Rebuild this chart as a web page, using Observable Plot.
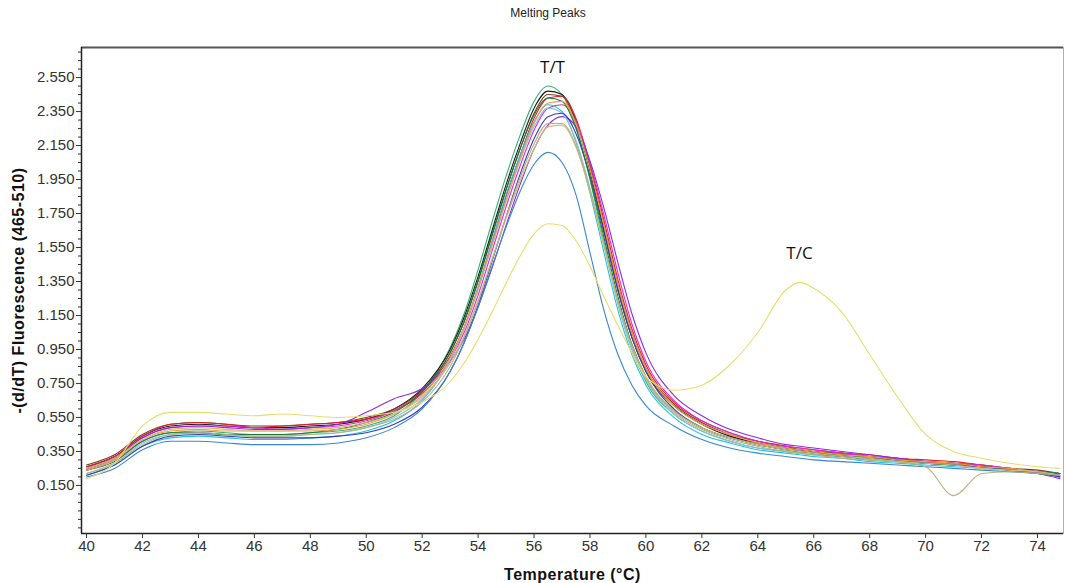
<!DOCTYPE html>
<html><head><meta charset="utf-8">
<script src="https://cdn.jsdelivr.net/npm/d3@7"></script>
<script src="https://cdn.jsdelivr.net/npm/@observablehq/plot@0.6"></script>
<style>
body{margin:0;background:#fff;}
#wrap{position:relative;width:1068px;height:583px;background:#fff;}
#wrap svg{display:block;}
#title{position:absolute;top:6px;left:548px;transform:translateX(-50%);font:12px "Liberation Sans",Arial,sans-serif;color:#222;white-space:nowrap;}
g[aria-label="y-axis label"] text, g[aria-label="x-axis label"] text{font-weight:bold;font-size:16px;fill:#111;letter-spacing:0.5px;}
</style></head>
<body><div id="wrap"><div id="title">Melting Peaks</div></div>
<script>
// Temperatures (°C) at which each melting-peak curve was read
const temps = [40,41,42,43,44,45,46,47,48,49,50,51,52,53,53.5,54,54.5,55,55.5,56,56.5,57,57.5,58,58.5,59,59.5,60,61,62,63,64,65,65.5,66,67,68,69,70,71,72,73,74,74.8];

const seriesNames = ["Sample 1","Sample 2","Sample 3","Sample 4","Sample 5","Sample 6","Sample 7","Sample 8","Sample 9","Sample 10","Sample 11","Sample 12","Sample 13","Sample 14","Sample 15"];
const seriesColors = ["#35b074","#1a1a1a","#7a3b1f","#e0202a","#e02ad0","#8a2be2","#22c4dd","#94b8f0","#3b3bb8","#1a7a3a","#f0a040","#d8b878","#3a86d0","#b4b47c","#e6de6a"];

const s1 = [0.24,0.30,0.41,0.46,0.47,0.46,0.45,0.45,0.46,0.47,0.50,0.56,0.70,0.96,1.16,1.42,1.70,1.97,2.21,2.41,2.50,2.45,2.26,1.95,1.58,1.22,0.95,0.76,0.57,0.47,0.41,0.37,0.35,0.34,0.33,0.32,0.30,0.29,0.28,0.27,0.26,0.24,0.23,0.22];
const s2 = [0.26,0.32,0.44,0.50,0.51,0.50,0.49,0.49,0.50,0.51,0.54,0.60,0.72,0.95,1.14,1.38,1.65,1.92,2.16,2.37,2.47,2.45,2.29,2.00,1.65,1.30,1.02,0.82,0.62,0.51,0.44,0.40,0.37,0.36,0.35,0.33,0.32,0.30,0.29,0.28,0.26,0.25,0.23,0.22];
const s3 = [0.27,0.33,0.45,0.51,0.52,0.51,0.50,0.50,0.51,0.52,0.55,0.60,0.71,0.93,1.11,1.35,1.62,1.89,2.13,2.34,2.45,2.44,2.30,2.02,1.68,1.33,1.05,0.84,0.63,0.52,0.45,0.41,0.38,0.36,0.35,0.34,0.32,0.31,0.29,0.28,0.27,0.25,0.24,0.22];
const s4 = [0.26,0.32,0.44,0.51,0.52,0.51,0.49,0.50,0.51,0.52,0.54,0.59,0.70,0.91,1.08,1.31,1.58,1.85,2.09,2.31,2.43,2.44,2.31,2.04,1.71,1.36,1.07,0.86,0.64,0.53,0.46,0.41,0.38,0.37,0.36,0.34,0.33,0.31,0.30,0.29,0.27,0.25,0.23,0.21];
const s5 = [0.25,0.31,0.43,0.49,0.50,0.50,0.49,0.48,0.49,0.50,0.53,0.59,0.69,0.89,1.05,1.27,1.53,1.79,2.03,2.24,2.37,2.39,2.29,2.05,1.74,1.40,1.10,0.88,0.65,0.53,0.46,0.41,0.38,0.37,0.36,0.34,0.32,0.31,0.29,0.28,0.27,0.25,0.23,0.20];
const s6 = [0.25,0.31,0.43,0.49,0.50,0.49,0.48,0.48,0.49,0.51,0.58,0.66,0.72,0.88,1.01,1.20,1.43,1.68,1.92,2.13,2.27,2.32,2.26,2.06,1.78,1.46,1.16,0.93,0.68,0.56,0.48,0.43,0.39,0.38,0.37,0.35,0.33,0.31,0.29,0.27,0.26,0.24,0.22,0.19];
const s7 = [0.21,0.27,0.38,0.43,0.44,0.43,0.42,0.42,0.43,0.44,0.47,0.53,0.65,0.89,1.08,1.32,1.59,1.86,2.09,2.29,2.39,2.35,2.17,1.87,1.52,1.18,0.92,0.74,0.55,0.45,0.40,0.36,0.34,0.33,0.32,0.31,0.29,0.28,0.27,0.26,0.25,0.24,0.23,0.22];
const s8 = [0.22,0.28,0.40,0.45,0.46,0.45,0.44,0.44,0.45,0.46,0.49,0.55,0.66,0.89,1.07,1.30,1.56,1.82,2.06,2.26,2.37,2.34,2.18,1.90,1.56,1.22,0.95,0.77,0.57,0.47,0.41,0.37,0.35,0.34,0.33,0.31,0.30,0.29,0.28,0.27,0.25,0.24,0.22,0.21];
const s9 = [0.21,0.27,0.38,0.44,0.45,0.44,0.43,0.43,0.43,0.44,0.46,0.51,0.61,0.82,0.99,1.21,1.47,1.73,1.98,2.19,2.32,2.34,2.22,1.97,1.64,1.30,1.02,0.82,0.60,0.49,0.43,0.39,0.36,0.35,0.34,0.32,0.31,0.30,0.28,0.27,0.26,0.24,0.22,0.20];
const s10 = [0.24,0.29,0.41,0.46,0.46,0.45,0.45,0.45,0.46,0.48,0.52,0.58,0.70,0.93,1.12,1.36,1.63,1.89,2.13,2.33,2.43,2.41,2.25,1.96,1.61,1.26,0.98,0.79,0.59,0.49,0.43,0.39,0.36,0.35,0.34,0.33,0.31,0.30,0.28,0.27,0.26,0.24,0.23,0.22];
const s11 = [0.24,0.30,0.42,0.47,0.48,0.47,0.47,0.47,0.47,0.48,0.51,0.57,0.68,0.90,1.08,1.31,1.57,1.83,2.07,2.28,2.40,2.41,2.28,2.01,1.68,1.33,1.05,0.84,0.62,0.51,0.45,0.40,0.37,0.36,0.35,0.33,0.32,0.30,0.29,0.28,0.26,0.25,0.23,0.21];
const s12 = [0.25,0.31,0.42,0.48,0.49,0.48,0.47,0.47,0.48,0.49,0.52,0.57,0.67,0.87,1.03,1.24,1.48,1.72,1.94,2.13,2.26,2.27,2.14,1.88,1.56,1.23,0.97,0.79,0.59,0.49,0.43,0.39,0.36,0.35,0.34,0.32,0.31,0.29,0.28,0.27,0.25,0.24,0.23,0.21];
const s13 = [0.20,0.25,0.36,0.41,0.41,0.40,0.39,0.39,0.39,0.40,0.43,0.49,0.60,0.82,0.99,1.20,1.44,1.67,1.88,2.04,2.11,2.05,1.86,1.52,1.18,0.92,0.74,0.62,0.50,0.42,0.37,0.34,0.32,0.31,0.30,0.29,0.28,0.27,0.26,0.25,0.24,0.23,0.22,0.21];
const s14 = [0.22,0.28,0.39,0.45,0.46,0.45,0.44,0.44,0.45,0.46,0.49,0.54,0.64,0.85,1.02,1.23,1.48,1.73,1.96,2.16,2.28,2.28,2.15,1.89,1.57,1.24,0.97,0.78,0.58,0.48,0.42,0.38,0.35,0.34,0.33,0.31,0.30,0.29,0.26,0.09,0.22,0.23,0.22,0.21];
const s15 = [0.19,0.28,0.50,0.58,0.58,0.57,0.56,0.57,0.56,0.55,0.56,0.58,0.64,0.76,0.87,1.01,1.17,1.34,1.50,1.63,1.69,1.68,1.59,1.44,1.26,1.09,0.93,0.79,0.71,0.74,0.86,1.05,1.30,1.345,1.31,1.17,0.92,0.67,0.45,0.35,0.31,0.28,0.26,0.25];

const seriesValues = [s1,s2,s3,s4,s5,s6,s7,s8,s9,s10,s11,s12,s13,s14,s15];

// Axes
const xDomain = [39.82, 74.93];
const yDomain = [-0.133, 2.727];
const xTicks = [40,42,44,46,48,50,52,54,56,58,60,62,64,66,68,70,72,74];
const yTicks = [0.15,0.35,0.55,0.75,0.95,1.15,1.35,1.55,1.75,1.95,2.15,2.35,2.55];
const yMinorTicks = d3.range(-0.10, 2.71, 0.05).filter(t => !yTicks.some(m => Math.abs(m - t) < 1e-6));

// Genotype annotations
const annoLabels = ["T/T", "T/C"];
const annoX = [56.66, 65.49];
const annoY = [2.609, 1.512];

const rows = [];
seriesNames.forEach((name, i) => seriesValues[i].forEach((v, j) => rows.push({series: name, temp: temps[j], value: v})));

const chart = Plot.plot({
  width: 1068, height: 583,
  marginLeft: 81, marginRight: 5, marginTop: 47, marginBottom: 50,
  style: {fontFamily: '"Liberation Sans", Arial, sans-serif', fontSize: "15px", color: "#333", background: "#fff"},
  x: {domain: xDomain},
  y: {domain: yDomain},
  color: {type: "ordinal", domain: seriesNames, range: seriesColors},
  marks: [
    Plot.frame({stroke: "#b0b0b0"}),
    Plot.ruleY([yDomain[1]], {stroke: "#555", strokeWidth: 2}),
    Plot.line(rows, {x: "temp", y: "value", z: "series", stroke: "series", strokeWidth: 1.1, curve: "monotone-x"}),
    Plot.ruleY([yDomain[0]], {stroke: "#222", strokeWidth: 1.5}),
    Plot.ruleX([xDomain[0]], {stroke: "#222", strokeWidth: 1.5}),
    Plot.axisX({ticks: xTicks, tickSize: 5, tickPadding: 2, label: "Temperature (°C)", labelAnchor: "center", labelOffset: 46, labelArrow: "none"}),
    Plot.axisY({ticks: yTicks, tickFormat: d3.format(".3f"), tickSize: 5, tickPadding: 2, label: "-(d/dT) Fluorescence (465-510)", labelAnchor: "center", labelOffset: 69, labelArrow: "none"}),
    Plot.axisY({ticks: yMinorTicks, tickSize: 3, tickFormat: () => "", label: null}),
    Plot.text(annoLabels, {x: annoX, y: annoY, text: d => d, fontSize: 17, fontFamily: '"Open Sans", sans-serif', fill: "#111"})
  ]
});
document.getElementById("wrap").appendChild(chart);
</script>
</body></html>
